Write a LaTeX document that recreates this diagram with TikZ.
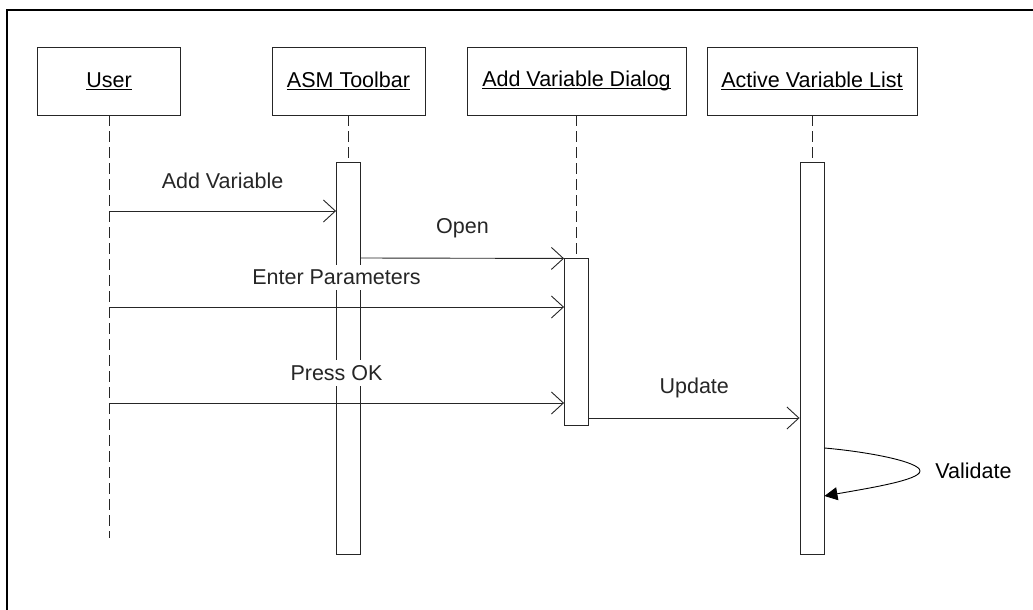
\documentclass[tikz,border=0pt]{standalone}
\usepackage{fontspec}
\setmainfont{Liberation Sans}
\usetikzlibrary{arrows.meta, positioning}
\tikzstyle{actor}=[draw=black!85, line width=0.9pt, minimum height=68pt, inner sep=0pt, font=\fontsize{21.5}{25}\selectfont]
\tikzstyle{activation}=[draw=black!85, fill=white, line width=0.9pt, minimum width=24pt, inner sep=0pt]
\tikzstyle{lifeline}=[black!85, line width=0.9pt, dash pattern=on 11pt off 5pt]
\tikzstyle{msg}=[-{Straight Barb[length=12pt,width=22pt]}, black!85, line width=0.9pt]
\tikzstyle{selfmsg}=[-{Triangle[length=13pt,width=13pt]}, black, line width=0.9pt]
\tikzstyle{msglabel}=[fill=white, inner sep=5pt, font=\fontsize{21.5}{25}\selectfont]
\newcommand{\ulname}[1]{\setbox0\hbox{#1}\rlap{\rule[-2.5pt]{\wd0}{1.1pt}}\box0}

\begin{document}
\begin{tikzpicture}[x=1pt, y=-1pt]
  \useasboundingbox (0,0) rectangle (1033,610);

  % Frame
  \draw[line width=2.2pt] (7,615) -- (7,10) -- (1040,10);

  % Objects
  \node[actor, minimum width=143pt] (user)    at (109,81)   {\ulname{User}};
  \node[actor, minimum width=153pt] (toolbar) at (348.5,81) {\ulname{ASM Toolbar}};
  \node[actor, minimum width=219pt] (dialog)  at (576.5,81) {\ulname{Add Variable Dialog}};
  \node[actor, minimum width=210pt] (varlist) at (812,81)   {\ulname{Active Variable List}};

  % Activation bars
  \node[activation, minimum height=392pt, below=47pt of toolbar]  (actToolbar) {};
  \node[activation, minimum height=167pt, below=143pt of dialog]  (actDialog)  {};
  \node[activation, minimum height=392pt, below=47pt of varlist]  (actList)    {};

  % Lifelines
  \coordinate (userEnd) at (109,538);
  \draw[lifeline] (user) -- (userEnd);
  \draw[lifeline] (toolbar) -- (actToolbar);
  \draw[lifeline] (dialog) -- (actDialog);
  \draw[lifeline] (varlist) -- (actList);

  % Messages
  \draw[msg] (user.south |- 0,211) -- (actToolbar.west |- 0,211)
    node[msglabel, midway, yshift=30pt] {Add Variable};
  \draw[msg] (actToolbar.east |- 0,258) -- (actDialog.north west)
    node[msglabel, midway, yshift=30pt] {Open};
  \draw[msg] (user.south |- 0,307) -- (actDialog.west |- 0,307)
    node[msglabel, midway, yshift=30pt] {Enter Parameters};
  \draw[msg] (user.south |- 0,403) -- (actDialog.west |- 0,403)
    node[msglabel, midway, yshift=30pt] {Press OK};
  \draw[msg] (actDialog.east |- 0,418) -- (actList.west |- 0,418)
    node[msglabel, midway, yshift=30pt] {Update};

  % Self call
  \draw[selfmsg] (actList.east |- 0,448) .. controls (870,452) and (920,462) .. (920,471)
    node[msglabel, anchor=west, xshift=10pt] {Validate}
    .. controls (920,480) and (870,488) .. (actList.east |- 0,496);
\end{tikzpicture}
\end{document}
